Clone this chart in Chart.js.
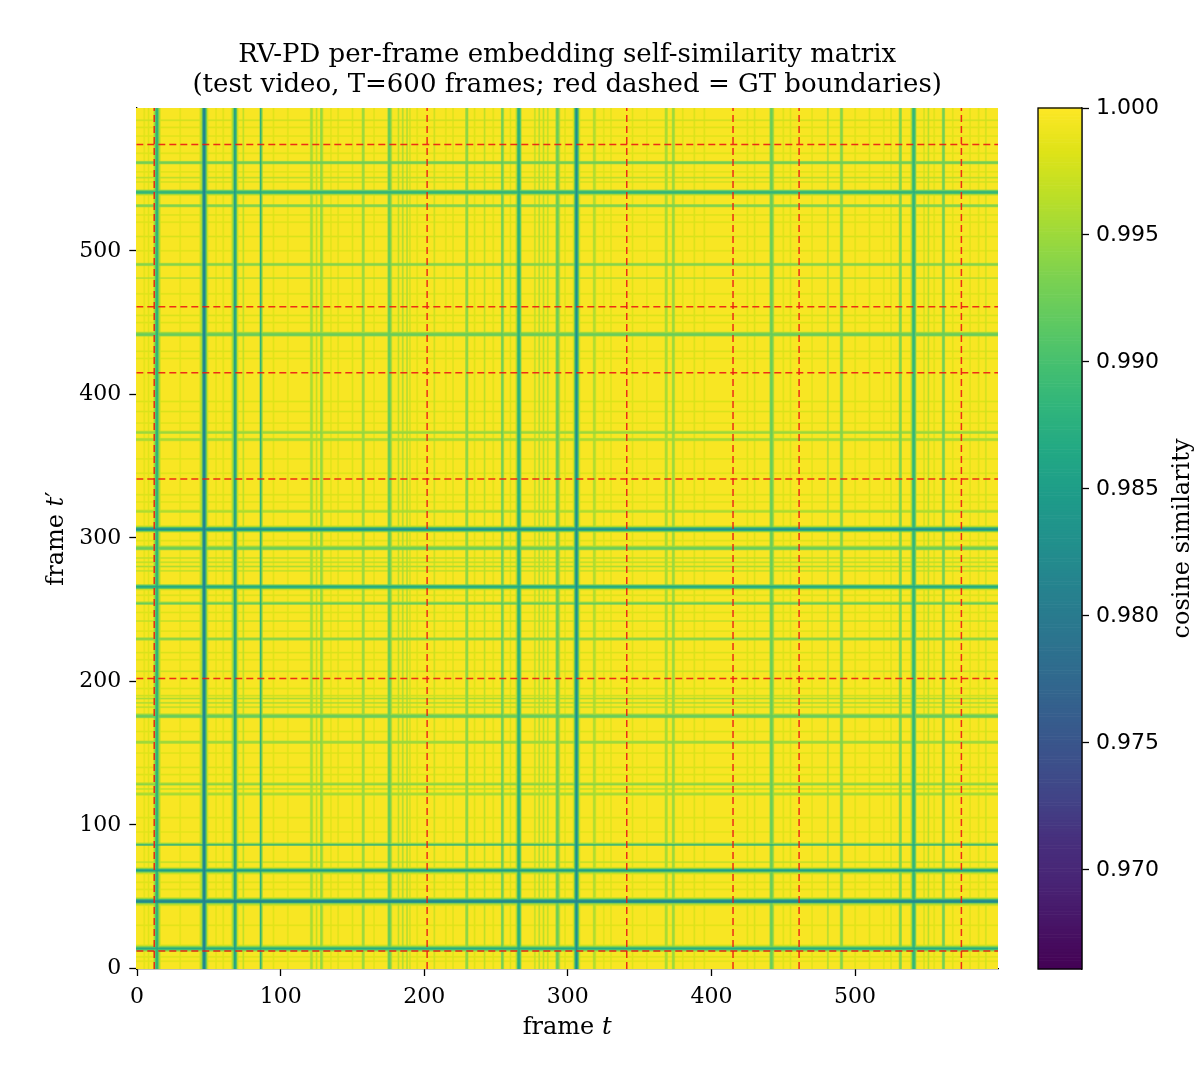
<!DOCTYPE html>
<html><head><meta charset="utf-8">
<script src="https://cdn.jsdelivr.net/npm/chart.js@4.4.1/dist/chart.umd.min.js"></script>
<style>
html,body{margin:0;padding:0;background:#fff;}
#wrap{position:relative;width:1200px;height:1067px;overflow:hidden;}
#main{position:absolute;left:0;top:0;}
#cbar{position:absolute;left:1000px;top:0;}
</style></head><body>
<div id="wrap"><canvas id="main" width="1200" height="1067"></canvas><canvas id="cbar" width="200" height="1067"></canvas></div>
<script>
// ---------------- data ----------------
const titleLines = ['RV-PD per-frame embedding self-similarity matrix',
                    '(test video, T=600 frames; red dashed = GT boundaries)'];
const nFrames = 600;
const frameTicks = [0, 100, 200, 300, 400, 500];
const gtBoundaries = [12, 202, 341, 415, 461, 574];
const baseSimilarity = 0.9997;
// frames whose embedding departs from the rest, and their typical similarity to other frames
const stripeFrames = [
  5, 8, 12, 13, 14, 15, 16, 30, 44, 45, 46, 47, 48, 49, 55, 60, 66, 67, 68, 69, 70, 74, 86, 87, 95, 105,
  121, 122, 125, 128, 129, 135, 140, 150, 157, 158, 165, 175, 176, 177, 182, 185, 188, 190, 195,
  207, 215, 220, 229, 230, 235, 242, 248, 254, 255, 260, 264, 265, 266, 267, 277, 280, 283, 286,
  292, 293, 294, 298, 304, 305, 306, 307, 308, 318, 319, 325, 330, 345, 355, 368, 369, 373, 374, 380, 388,
  395, 425, 430, 441, 442, 443, 450, 455, 470, 481, 490, 491, 500, 510, 520, 525, 531, 532,
  539, 540, 541, 542, 548, 551, 555, 561, 562, 568, 580, 586, 591
];
const stripeSims = [
  0.9984, 0.9982, 0.9960, 0.9900, 0.9865, 0.9930, 0.9975, 0.9984, 0.9975, 0.9950, 0.9830, 0.9810, 0.9895, 0.9968, 0.9984, 0.9982, 0.9975, 0.9930, 0.9845, 0.9885, 0.9972, 0.9965, 0.9870, 0.9945, 0.9984, 0.9982,
  0.9955, 0.9960, 0.9966, 0.9940, 0.9955, 0.9982, 0.9980, 0.9982, 0.9952, 0.9950, 0.9982, 0.9925, 0.9920, 0.9950, 0.9962, 0.9955, 0.9955, 0.9972, 0.9982,
  0.9972, 0.9982, 0.9980, 0.9945, 0.9940, 0.9982, 0.9965, 0.9982, 0.9915, 0.9945, 0.9980, 0.9972, 0.9890, 0.9865, 0.9915, 0.9965, 0.9958, 0.9965, 0.9965,
  0.9930, 0.9920, 0.9955, 0.9982, 0.9972, 0.9880, 0.9820, 0.9885, 0.9968, 0.9955, 0.9965, 0.9982, 0.9980, 0.9982, 0.9982, 0.9955, 0.9958, 0.9945, 0.9955, 0.9982, 0.9980,
  0.9982, 0.9982, 0.9980, 0.9930, 0.9920, 0.9950, 0.9982, 0.9980, 0.9982, 0.9955, 0.9938, 0.9940, 0.9982, 0.9980, 0.9982, 0.9980, 0.9935, 0.9938,
  0.9972, 0.9900, 0.9875, 0.9925, 0.9974, 0.9962, 0.9982, 0.9928, 0.9930, 0.9982, 0.9982, 0.9982, 0.9974
];
const colorMin = 0.9661, colorMax = 1.0;
const colorbarTicks = [0.970, 0.975, 0.980, 0.985, 0.990, 0.995, 1.000];

// viridis colormap stops
const viridis = ['#440154','#471365','#482475','#472f7d','#414487','#3b528b','#355f8d','#2f6c8e','#2a788e','#25848e',
  '#21918c','#1e9c89','#22a884','#2fb47c','#44bf70','#5ec962','#7ad151','#9bd93c','#bddf26','#dfe318','#fde725'];
const viridisRGB = viridis.map(h => [parseInt(h.slice(1,3),16), parseInt(h.slice(3,5),16), parseInt(h.slice(5,7),16)]);
function cmap(v) {
  let t = (v - colorMin) / (colorMax - colorMin);
  t = Math.max(0, Math.min(1, t));
  const f = t * (viridisRGB.length - 1);
  const k = Math.min(viridisRGB.length - 2, Math.floor(f));
  const u = f - k;
  const a = viridisRGB[k], b = viridisRGB[k + 1];
  return [a[0] + (b[0]-a[0])*u, a[1] + (b[1]-a[1])*u, a[2] + (b[2]-a[2])*u];
}

// per-frame profile and self-similarity matrix
const profile = new Array(nFrames).fill(baseSimilarity);
stripeFrames.forEach((f, k) => { profile[f] = stripeSims[k]; });
function similarity(i, j) { return Math.min(profile[i], profile[j]); }

const SERIF = '"DejaVu Serif", serif';
const SANS = '"DejaVu Sans", sans-serif';

// ---------------- plugins ----------------
let heatImg = null;
function buildHeat() {
  const c = document.createElement('canvas');
  c.width = nFrames; c.height = nFrames;
  const cx = c.getContext('2d');
  const img = cx.createImageData(nFrames, nFrames);
  for (let r = 0; r < nFrames; r++) {
    const j = nFrames - 1 - r;
    for (let i = 0; i < nFrames; i++) {
      const col = cmap(similarity(i, j));
      const p = (r * nFrames + i) * 4;
      img.data[p] = col[0]; img.data[p+1] = col[1]; img.data[p+2] = col[2]; img.data[p+3] = 255;
    }
  }
  cx.putImageData(img, 0, 0);
  return c;
}
const heatmapPlugin = {
  id: 'heatmap',
  beforeDatasetsDraw(chart) {
    const {ctx, scales: {x, y}} = chart;
    if (!heatImg) heatImg = buildHeat();
    const x0 = x.getPixelForValue(-0.5), x1 = x.getPixelForValue(nFrames - 0.5);
    const yTop = y.getPixelForValue(nFrames - 0.5), yBot = y.getPixelForValue(-0.5);
    ctx.save();
    ctx.imageSmoothingEnabled = true;
    ctx.drawImage(heatImg, x0, yTop, x1 - x0, yBot - yTop);
    ctx.restore();
  }
};
function drawMixed(ctx, parts, cx, cy, size) {
  const fonts = parts.map(p => (p[1] ? 'italic ' : '') + size + 'px ' + SERIF);
  let total = 0;
  const widths = parts.map((p, k) => { ctx.font = fonts[k]; const w = ctx.measureText(p[0]).width; total += w; return w; });
  let xx = cx - total / 2;
  ctx.textBaseline = 'middle'; ctx.textAlign = 'left'; ctx.fillStyle = '#000';
  parts.forEach((p, k) => { ctx.font = fonts[k]; ctx.fillText(p[0], xx, cy); xx += widths[k]; });
}
const axisLabelPlugin = {
  id: 'axisLabels',
  afterDraw(chart) {
    const {ctx, chartArea} = chart;
    const cx = (chartArea.left + chartArea.right) / 2;
    const cy = (chartArea.top + chartArea.bottom) / 2;
    ctx.save();
    drawMixed(ctx, [['frame ', false], ['t', true]], cx, chartArea.bottom + 59, 24);
    ctx.translate(chartArea.left - 80, cy);
    ctx.rotate(-Math.PI / 2);
    drawMixed(ctx, [['frame ', false], ['t', true], ['\u2032', false]], 0, 0, 24);
    ctx.restore();
  }
};

// ---------------- main chart ----------------
const lineDatasets = [];
gtBoundaries.forEach(b => {
  lineDatasets.push({data: [{x: b, y: -0.5}, {x: b, y: nFrames - 0.5}]});
  lineDatasets.push({data: [{x: -0.5, y: b}, {x: nFrames - 0.5, y: b}]});
});
lineDatasets.forEach(d => Object.assign(d, {
  showLine: true, borderColor: 'rgba(235,25,20,0.9)', borderWidth: 1.5, borderDash: [7, 4],
  pointRadius: 0, pointHoverRadius: 0, fill: false
}));

function axisCommon(fitFn, pad) {
  return {
    type: 'linear', min: -0.5, max: nFrames - 0.5,
    afterBuildTicks: s => { s.ticks = frameTicks.map(v => ({value: v})); },
    afterFit: fitFn,
    grid: {display: true, drawOnChartArea: false, drawTicks: true, tickLength: 7, tickColor: '#000', tickWidth: 1.3},
    border: {display: true, color: '#000', width: 1.3},
    ticks: {font: {family: SERIF, size: 22}, color: '#000', padding: pad, maxRotation: 0, autoSkip: false}
  };
}
new Chart(document.getElementById('main'), {
  type: 'scatter',
  data: {datasets: lineDatasets},
  options: {
    responsive: false, animation: false, devicePixelRatio: 1,
    layout: {padding: {left: 0, right: 202, top: 0, bottom: 0}},
    plugins: {
      legend: {display: false}, tooltip: {enabled: false},
      title: {display: true, fullSize: false, text: titleLines, color: '#000',
        font: {family: SERIF, size: 26, weight: 'normal', lineHeight: 30 / 26},
        padding: {top: 40, bottom: 8}}
    },
    scales: {
      x: axisCommon(s => { s.height = 98; }, 8),
      y: axisCommon(s => { s.width = 136.3; }, 8)
    }
  },
  plugins: [heatmapPlugin, axisLabelPlugin]
});

// ---------------- colorbar ----------------
const colorbarPlugin = {
  id: 'colorbar',
  beforeDatasetsDraw(chart) {
    const {ctx, chartArea, scales: {y}} = chart;
    const N = 300;
    ctx.save();
    for (let k = 0; k < N; k++) {
      const v0 = colorMin + (colorMax - colorMin) * k / N;
      const v1 = colorMin + (colorMax - colorMin) * (k + 1) / N;
      const c = cmap((v0 + v1) / 2);
      ctx.fillStyle = 'rgb(' + c.map(Math.round).join(',') + ')';
      const yA = y.getPixelForValue(v1), yB = y.getPixelForValue(v0);
      ctx.fillRect(chartArea.left, yA - 0.3, chartArea.right - chartArea.left, yB - yA + 0.6);
    }
    ctx.strokeStyle = '#000'; ctx.lineWidth = 1.3;
    ctx.strokeRect(chartArea.left, chartArea.top, chartArea.right - chartArea.left, chartArea.bottom - chartArea.top);
    ctx.restore();
  },
  afterDraw(chart) {
    const {ctx, chartArea} = chart;
    ctx.save();
    ctx.translate(183, (chartArea.top + chartArea.bottom) / 2);
    ctx.rotate(-Math.PI / 2);
    ctx.font = '24px ' + SERIF; ctx.fillStyle = '#000'; ctx.textAlign = 'center'; ctx.textBaseline = 'middle';
    ctx.fillText('cosine similarity', 0, 0);
    ctx.restore();
  }
};
new Chart(document.getElementById('cbar'), {
  type: 'scatter',
  data: {datasets: []},
  options: {
    responsive: false, animation: false, devicePixelRatio: 1,
    layout: {padding: {left: 38, right: 0, top: 108, bottom: 98}},
    plugins: {legend: {display: false}, tooltip: {enabled: false}, title: {display: false}},
    scales: {
      x: {display: false, min: 0, max: 1},
      y: {
        position: 'right', min: colorMin, max: colorMax,
        afterBuildTicks: s => { s.ticks = colorbarTicks.map(v => ({value: v})); },
        afterFit: s => { s.width = 118; },
        grid: {display: true, drawOnChartArea: false, drawTicks: true, tickLength: 7, tickColor: '#000', tickWidth: 1.3},
        border: {display: true, color: '#000', width: 1.3},
        ticks: {font: {family: SANS, size: 22}, color: '#000', padding: 7, autoSkip: false, callback: v => Number(v).toFixed(3)}
      }
    }
  },
  plugins: [colorbarPlugin]
});
</script>
</body></html>
